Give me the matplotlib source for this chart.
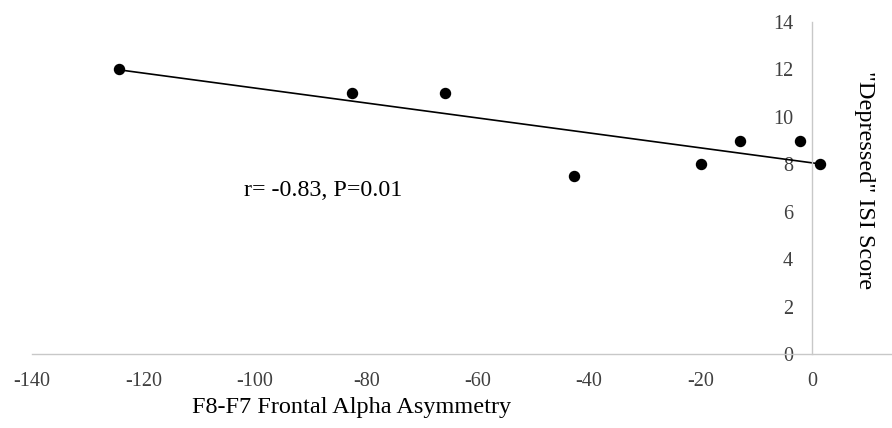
import matplotlib
matplotlib.use("Agg")
import matplotlib.pyplot as plt
import numpy as np

# values
asymmetry = [-124.4, -82.5, -65.8, -42.7, -19.9, -12.8, -2.2, 1.4]
isi_score = [12, 11, 11, 7.5, 8, 9, 9, 8]
x_ticks = [-140, -120, -100, -80, -60, -40, -20, 0]
y_ticks = [0, 2, 4, 6, 8, 10, 12, 14]
stats_label = "r= -0.83, P=0.01"

plt.rcParams['font.family'] = ['Liberation Serif', 'DejaVu Serif']
plt.rcParams['axes.unicode_minus'] = False

fig = plt.figure(figsize=(8.92, 4.28), dpi=100)
ax = fig.add_axes([32 / 892, 74 / 428, 860 / 892, 332 / 428])

ax.scatter(asymmetry, isi_score, s=52, color='black', zorder=3)

# linear trendline over the data range
slope, icpt = np.polyfit(asymmetry, isi_score, 1)
xs = np.array([min(asymmetry), max(asymmetry)])
ax.plot(xs, slope * xs + icpt, color='black', linewidth=1.2, zorder=2)

ax.set_xlim(-140, 14.4)
ax.set_ylim(0, 14)
ax.set_xticks(x_ticks)
ax.set_yticks(y_ticks)

ax.spines['left'].set_position(('data', 0))
ax.spines['bottom'].set_position(('data', 0))
ax.spines['top'].set_visible(False)
ax.spines['right'].set_visible(False)
for side in ['left', 'bottom']:
    ax.spines[side].set_color('#c8c8c8')
    ax.spines[side].set_linewidth(1.0)

ax.tick_params(axis='both', length=0, labelsize=14.5, labelcolor='#404040')
ax.tick_params(axis='y', pad=13.5)
ax.tick_params(axis='x', pad=13)

ax.text(-102, 6.9, stats_label, fontsize=17.3, va='center', ha='left')

fig.text(192 / 892, 1 - 407 / 428, "F8-F7 Frontal Alpha Asymmetry",
         fontsize=17.5, ha='left', va='center')
fig.text(865 / 892, 1 - 180 / 428, '"Depressed" ISI Score',
         fontsize=17.5, ha='center', va='center', rotation=-90)

fig.savefig("out.png", dpi=100)
